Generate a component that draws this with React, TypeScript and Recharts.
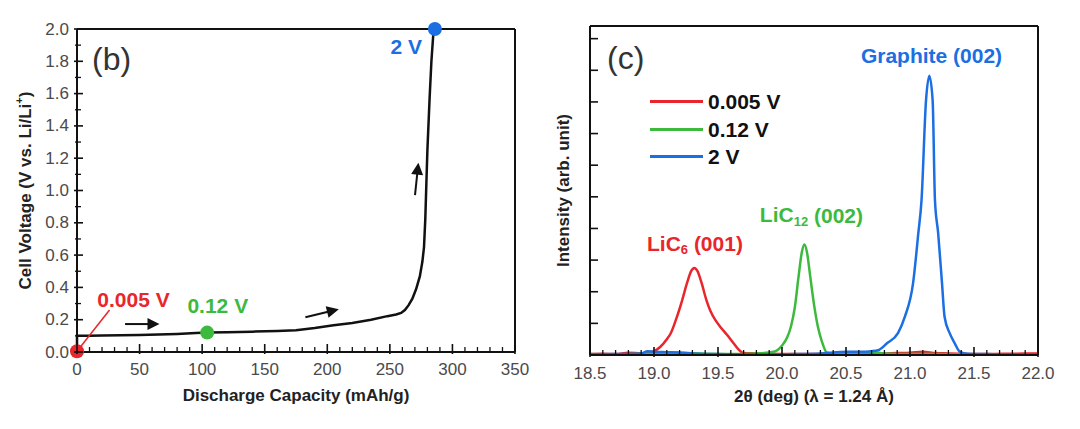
import React from 'react';
import {
  ComposedChart,
  LineChart,
  Line,
  XAxis,
  YAxis,
  ReferenceLine,
  ReferenceDot,
  Legend,
} from 'recharts';

const FONT = '"Liberation Sans", Arial, Helvetica, sans-serif';
const RED = '#e8262b';
const GREEN = '#3dba3d';
const BLUE = '#1b6fe3';
const INK = '#111';
const TICKTXT = '#4a4a4a';

// ---------- Panel (b): discharge curve ----------
const capacity = [0, 0, 10, 20, 35, 50, 65, 80, 95, 104, 120, 140, 160, 175, 190, 205, 220, 235, 248, 255, 259, 262, 265, 268, 271, 274, 276, 277.3, 278.3, 279.2, 280, 281.7, 283.2, 285];
const voltage = [0.005, 0.1, 0.1, 0.102, 0.104, 0.106, 0.108, 0.112, 0.117, 0.12, 0.123, 0.126, 0.13, 0.135, 0.148, 0.165, 0.18, 0.2, 0.222, 0.232, 0.242, 0.26, 0.29, 0.33, 0.39, 0.47, 0.56, 0.65, 0.82, 1.05, 1.25, 1.56, 1.8, 2.0];
const curveData = capacity.map((c, i) => ({ cap: c, v: voltage[i] }));

const bXMajor = [0, 50, 100, 150, 200, 250, 300, 350];
const bYMajor = [0, 0.2, 0.4, 0.6, 0.8, 1.0, 1.2, 1.4, 1.6, 1.8, 2.0];
const bXMinor: number[] = [];
for (let i = 1; i < 35; i++) if (i % 5 !== 0) bXMinor.push(i * 10);
const bYMinor: number[] = [];
for (let i = 0; i < 10; i++) bYMinor.push((2 * i + 1) / 10);

// state-of-charge markers
const markerCap = [0, 104, 286];
const markerV = [0.005, 0.12, 2.0];
const markerColor = [RED, GREEN, BLUE];
const markerLabel = ['0.005 V', '0.12 V', '2 V'];
const markerLabelCap = [45.2, 112.5, 263.2];
const markerLabelV = [0.328, 0.288, 1.892];

// direction arrows (start -> tip)
const arrowFromCap = [38.4, 182.5, 270.1];
const arrowFromV = [0.173, 0.215, 0.972];
const arrowToCap = [65.9, 209.2, 272.8];
const arrowToV = [0.173, 0.265, 1.172];

// ---------- Panel (c): XRD ----------
const redX = [18.5, 18.6, 18.7, 18.8, 18.9, 19.0, 19.05, 19.1, 19.13, 19.17, 19.22, 19.26, 19.29, 19.315, 19.34, 19.37, 19.41, 19.44, 19.48, 19.52, 19.57, 19.62, 19.66, 19.7, 19.8, 19.9, 20.0, 20.2, 20.4, 20.6, 20.8, 20.9, 21.0, 21.1, 21.2, 21.3, 21.4, 21.6, 21.8, 22.0];
const redY = [0.03, 0.04, 0.03, 0.07, 0.05, 0.12, 0.26, 0.5, 0.68, 1.1, 1.73, 2.3, 2.65, 2.75, 2.65, 2.3, 1.73, 1.4, 1.1, 0.88, 0.64, 0.38, 0.18, 0.06, 0.05, 0.04, 0.03, 0.03, 0.04, 0.03, 0.05, 0.06, 0.07, 0.1, 0.06, 0.05, 0.04, 0.03, 0.04, 0.05];
const greenX = [18.5, 18.7, 18.9, 19.1, 19.2, 19.4, 19.6, 19.8, 19.9, 19.95, 20.0, 20.04, 20.07, 20.1, 20.13, 20.155, 20.175, 20.195, 20.22, 20.25, 20.28, 20.31, 20.35, 20.4, 20.5, 20.6, 20.7, 20.8, 21.0, 21.2, 21.5, 22.0];
const greenY = [0.03, 0.02, 0.04, 0.05, 0.07, 0.04, 0.03, 0.05, 0.08, 0.12, 0.3, 0.55, 0.9, 1.5, 2.5, 3.25, 3.49, 3.25, 2.5, 1.6, 0.9, 0.45, 0.08, 0.05, 0.06, 0.08, 0.09, 0.05, 0.03, 0.03, 0.02, 0.02];
const blueX = [18.5, 18.7, 18.9, 18.95, 19.0, 19.1, 19.2, 19.3, 19.5, 19.7, 19.9, 20.1, 20.3, 20.4, 20.5, 20.6, 20.7, 20.75, 20.82, 20.906, 20.96, 21.024, 21.065, 21.09, 21.125, 21.151, 21.177, 21.195, 21.22, 21.25, 21.27, 21.31, 21.35, 21.39, 21.45, 21.6, 21.8, 22.0];
const blueY = [0.02, 0.03, 0.05, 0.12, 0.1, 0.09, 0.08, 0.05, 0.03, 0.02, 0.02, 0.03, 0.05, 0.08, 0.1, 0.1, 0.12, 0.15, 0.37, 0.69, 1.21, 2.27, 3.85, 4.89, 8.04, 8.83, 8.04, 4.89, 3.85, 2.27, 1.21, 0.69, 0.37, 0.1, 0.04, 0.03, 0.02, 0.02];
const redData = redX.map((x, i) => ({ x, y: redY[i] }));
const greenData = greenX.map((x, i) => ({ x, y: greenY[i] }));
const blueData = blueX.map((x, i) => ({ x, y: blueY[i] }));

const cXMajor = [18.5, 19.0, 19.5, 20.0, 20.5, 21.0, 21.5, 22.0];
const cXMinor: number[] = [];
for (let i = 186; i < 220; i++) if (i % 5 !== 0) cXMinor.push(i / 10);
const cYTicks = [0, 1, 2, 3, 4, 5, 6, 7, 8, 9, 10];

const isIn = (arr: number[], v: number) => arr.some((m) => Math.abs(m - v) < 1e-9);

// ---------- helpers ----------
const BXTick = (p: any) => {
  const { x, y, payload } = p;
  const major = isIn(bXMajor, payload.value);
  return (
    <g>
      <line x1={x} x2={x} y1={y + (major ? 2 : 1)} y2={y - (major ? 8 : 5)} stroke={INK} strokeWidth={major ? 1.6 : 1.3} />
      {major && (
        <text x={x} y={y + 17} textAnchor="middle" dominantBaseline="central" fontSize={17} fill={TICKTXT} fontFamily={FONT}>
          {payload.value}
        </text>
      )}
    </g>
  );
};
const BYTick = (p: any) => {
  const { x, y, payload } = p;
  const major = isIn(bYMajor, payload.value);
  return (
    <g>
      <line x1={x - (major ? 3 : 2)} x2={x + (major ? 6 : 4)} y1={y} y2={y} stroke={INK} strokeWidth={major ? 1.6 : 1.3} />
      {major && (
        <text x={x - 8} y={y} textAnchor="end" dominantBaseline="central" fontSize={17} fill={TICKTXT} fontFamily={FONT}>
          {Number(payload.value).toFixed(1)}
        </text>
      )}
    </g>
  );
};
const CXTick = (p: any) => {
  const { x, y, payload } = p;
  const major = isIn(cXMajor, payload.value);
  return (
    <g>
      <line x1={x} x2={x} y1={y + (major ? 2 : 1)} y2={y - (major ? 8 : 5)} stroke={INK} strokeWidth={major ? 1.6 : 1.3} />
      {major && (
        <text x={x} y={y + 18} textAnchor="middle" dominantBaseline="central" fontSize={17} fill={TICKTXT} fontFamily={FONT}>
          {Number(payload.value).toFixed(1)}
        </text>
      )}
    </g>
  );
};
const CYTick = (p: any) => {
  const { x, y } = p;
  return <line x1={x} x2={x + 8} y1={y} y2={y} stroke={INK} strokeWidth={1.6} />;
};

const xTitle = (content: React.ReactNode, dy: number) => (p: any) => {
  const vb = p.viewBox || {};
  return (
    <text x={vb.x + vb.width / 2} y={vb.y + dy} textAnchor="middle" dominantBaseline="central" fontSize={17} fontWeight="bold" fill="#222" fontFamily={FONT}>
      {content}
    </text>
  );
};
const yTitle = (content: React.ReactNode, dx: number) => (p: any) => {
  const vb = p.viewBox || {};
  const x = vb.x + dx;
  const y = vb.y + vb.height / 2;
  return (
    <text x={x} y={y} transform={`rotate(-90 ${x} ${y})`} textAnchor="middle" dominantBaseline="central" fontSize={17} fontWeight="bold" fill="#222" fontFamily={FONT}>
      {content}
    </text>
  );
};

const textShape = (content: React.ReactNode, fill: string, size: number, weight: string, anchor: string) => (p: any) => (
  <text x={p.cx} y={p.cy} fill={fill} fontSize={size} fontWeight={weight} textAnchor={anchor} dominantBaseline="central" fontFamily={FONT}>
    {content}
  </text>
);

const arrowShape = (p: any) => {
  const { x1, y1, x2, y2 } = p;
  if ([x1, y1, x2, y2].some((v) => typeof v !== 'number' || isNaN(v))) return <g />;
  const dx = x2 - x1;
  const dy = y2 - y1;
  const len = Math.sqrt(dx * dx + dy * dy) || 1;
  const ux = dx / len;
  const uy = dy / len;
  const hl = 12;
  const hw = 6;
  const bx = x2 - ux * hl;
  const by = y2 - uy * hl;
  const pts = `${x2},${y2} ${bx - uy * hw},${by + ux * hw} ${bx + uy * hw},${by - ux * hw}`;
  return (
    <g>
      <line x1={x1} y1={y1} x2={bx + ux * 1} y2={by + uy * 1} stroke={INK} strokeWidth={2} />
      <polygon points={pts} fill={INK} />
    </g>
  );
};

const renderLegend = (props: any) => (
  <div style={{ fontFamily: FONT }}>
    {(props.payload || []).map((e: any) => (
      <div key={e.value} style={{ display: 'flex', alignItems: 'center', height: 27.5 }}>
        <div style={{ width: 53, height: 3, background: e.color, marginRight: 5 }} />
        <span style={{ fontSize: 21, fontWeight: 'bold', color: INK, lineHeight: '21px' }}>{e.value}</span>
      </div>
    ))}
  </div>
);

export default function App() {
  return (
    <div style={{ position: 'absolute', left: 0, top: 0, width: 1080, height: 429, background: '#fff', fontFamily: FONT }}>
      <div style={{ position: 'absolute', left: 0, top: 0 }}>
        <ComposedChart width={540} height={429} data={curveData} margin={{ top: 29, right: 25, bottom: 47, left: 27 }}>
          <XAxis
            dataKey="cap"
            type="number"
            domain={[0, 350]}
            ticks={[...bXMajor, ...bXMinor]}
            interval={0}
            tickSize={0}
            tickMargin={0}
            tickLine={false}
            tick={(p: any) => <BXTick {...p} />}
            axisLine={{ stroke: INK, strokeWidth: 2 }}
            height={30}
            label={xTitle('Discharge Capacity (mAh/g)', 43)}
          />
          <YAxis
            type="number"
            domain={[0, 2]}
            ticks={[...bYMajor, ...bYMinor]}
            interval={0}
            tickSize={0}
            tickMargin={0}
            tickLine={false}
            tick={(p: any) => <BYTick {...p} />}
            axisLine={{ stroke: INK, strokeWidth: 2 }}
            width={50}
            label={yTitle(
              <>
                Cell Voltage (V vs. Li/Li
                <tspan fontSize={11} dy={-6}>+</tspan>
                <tspan dy={6}>)</tspan>
              </>,
              -2
            )}
          />
          <ReferenceLine y={2} stroke={INK} strokeWidth={2} ifOverflow="visible" />
          <ReferenceLine x={350} stroke={INK} strokeWidth={2} ifOverflow="visible" />
          <Line dataKey="v" type="linear" stroke={INK} strokeWidth={2.5} dot={false} isAnimationActive={false} />
          <ReferenceLine
            segment={[{ x: markerCap[0], y: markerV[0] }, { x: 26, y: 0.26 }]}
            stroke={RED}
            strokeWidth={1.5}
            ifOverflow="visible"
          />
          {arrowFromCap.map((c, i) => (
            <ReferenceLine
              key={'a' + i}
              segment={[{ x: c, y: arrowFromV[i] }, { x: arrowToCap[i], y: arrowToV[i] }]}
              shape={arrowShape}
              ifOverflow="visible"
            />
          ))}
          {markerCap.map((c, i) => (
            <ReferenceDot key={'m' + i} x={c} y={markerV[i]} r={7} fill={markerColor[i]} stroke="none" ifOverflow="visible" />
          ))}
          {markerLabel.map((t, i) => (
            <ReferenceDot
              key={'l' + i}
              x={markerLabelCap[i]}
              y={markerLabelV[i]}
              r={0}
              ifOverflow="visible"
              shape={textShape(t, markerColor[i], 21, 'bold', 'middle')}
            />
          ))}
          <ReferenceDot x={12} y={1.814} r={0} ifOverflow="visible" shape={textShape('(b)', '#333', 32, 'normal', 'start')} />
        </ComposedChart>
      </div>

      <div style={{ position: 'absolute', left: 540, top: 0 }}>
        <LineChart width={540} height={429} margin={{ top: 26, right: 42, bottom: 44, left: 0 }}>
          <XAxis
            dataKey="x"
            type="number"
            domain={[18.5, 22]}
            ticks={[...cXMajor, ...cXMinor]}
            interval={0}
            tickSize={0}
            tickMargin={0}
            tickLine={false}
            tick={(p: any) => <CXTick {...p} />}
            axisLine={{ stroke: INK, strokeWidth: 2 }}
            height={30}
            allowDuplicatedCategory={false}
            label={xTitle('2θ (deg) (λ = 1.24 Å)', 41)}
          />
          <YAxis
            type="number"
            domain={[0, 10.4]}
            ticks={cYTicks}
            interval={0}
            tickSize={0}
            tickMargin={0}
            tickLine={false}
            tick={(p: any) => <CYTick {...p} />}
            axisLine={{ stroke: INK, strokeWidth: 2 }}
            width={50}
            label={yTitle('Intensity (arb. unit)', 23)}
          />
          <ReferenceLine y={10.4} stroke={INK} strokeWidth={2} ifOverflow="visible" />
          <ReferenceLine x={22} stroke={INK} strokeWidth={2} ifOverflow="visible" />
          <Line data={redData} dataKey="y" name="0.005 V" type="monotone" stroke={RED} strokeWidth={2.5} dot={false} isAnimationActive={false} />
          <Line data={greenData} dataKey="y" name="0.12 V" type="monotone" stroke={GREEN} strokeWidth={2.5} dot={false} isAnimationActive={false} />
          <Line data={blueData} dataKey="y" name="2 V" type="monotone" stroke={BLUE} strokeWidth={2.5} dot={false} isAnimationActive={false} />
          <Legend
            layout="vertical"
            align="center"
            verticalAlign="middle"
            content={renderLegend}
            wrapperStyle={{ left: 110, top: 88, width: 200, height: 90 }}
          />
          <ReferenceDot x={18.633} y={9.39} r={0} ifOverflow="visible" shape={textShape('(c)', '#333', 32, 'normal', 'start')} />
          <ReferenceDot
            x={19.32}
            y={3.54}
            r={0}
            ifOverflow="visible"
            shape={textShape(
              <>
                LiC<tspan fontSize={13} dy={6}>6</tspan>
                <tspan dy={-6}> (001)</tspan>
              </>,
              RED,
              21,
              'bold',
              'middle'
            )}
          />
          <ReferenceDot
            x={20.23}
            y={4.43}
            r={0}
            ifOverflow="visible"
            shape={textShape(
              <>
                LiC<tspan fontSize={13} dy={6}>12</tspan>
                <tspan dy={-6}> (002)</tspan>
              </>,
              GREEN,
              21,
              'bold',
              'middle'
            )}
          />
          <ReferenceDot x={21.168} y={9.48} r={0} ifOverflow="visible" shape={textShape('Graphite (002)', BLUE, 21, 'bold', 'middle')} />
        </LineChart>
      </div>
    </div>
  );
}
